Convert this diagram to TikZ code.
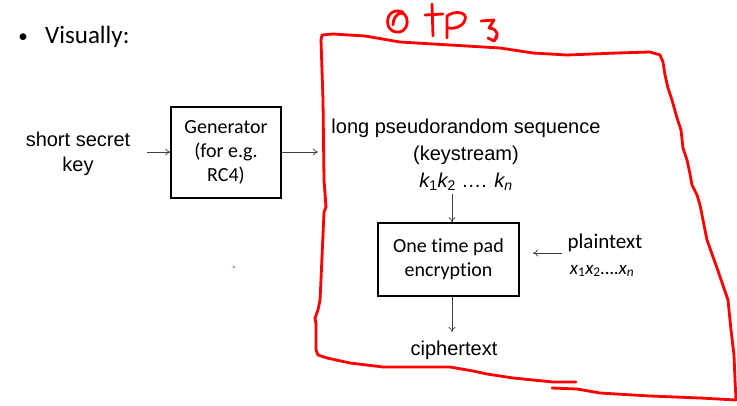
\documentclass[tikz,border=0pt]{standalone}
\usepackage{fontspec}
\setmainfont{Liberation Sans}
\newfontfamily\calfont[Ligatures={NoCommon}]{Carlito}
\usetikzlibrary{arrows.meta}
\tikzset{
  blockbox/.style={draw, line width=1.6pt, align=center, inner sep=0pt, font=\calfont\fontsize{20}{24}\selectfont},
  arr/.style={-{To[length=5pt,width=7pt]}, line width=0.7pt, draw=black!75},
  txt/.style={align=center, inner sep=0pt, font=\fontsize{20}{25}\selectfont},
  redink/.style={draw=red, line width=2.8pt, line join=round, line cap=round},
}
\begin{document}
\begin{tikzpicture}[x=1pt,y=-1pt]
\useasboundingbox (0,0) rectangle (737,405);
\fill[white] (0,0) rectangle (737,405);

% heading
\node[inner sep=0pt, font=\calfont\fontsize{19}{24}\selectfont] (bul) at (23,38) {•};
\node[anchor=west, inner sep=0pt, font=\calfont\fontsize{25}{30}\selectfont] (vis) at (45,37) {Visually:};

% left part
\node[txt] (key) at (78,154) {short secret\\key};
\node[blockbox, minimum width=110pt, minimum height=91pt] (gen) at (226,152.5) {Generator\\(for e.g.\\RC4)};
\coordinate (kin) at (147,152);
\coordinate (gout) at (318,152);
\draw[arr] (kin) -- (gen.west |- kin);
\draw[arr] (gen.east |- gout) -- (gout);

% keystream
\node[txt, font=\fontsize{20}{27}\selectfont] (ks) at (466,155) {long pseudorandom sequence\\(keystream)\\{\itshape k}\textsubscript{1}{\itshape k}\textsubscript{2} …. {\itshape k}\textsubscript{\itshape n}};
\node[blockbox, minimum width=141pt, minimum height=73pt] (otp) at (448.5,259.5) {One time pad\\encryption};
\coordinate (ksb) at (452,194);
\draw[arr] (ksb) -- (ksb |- otp.north);

% plaintext
\node[inner sep=0pt, font=\calfont\fontsize{21}{25}\selectfont] (pt) at (605,243) {plaintext};
\node[inner sep=0pt, font=\calfont\fontsize{19}{24}\selectfont] (xs) at (602,271) {{\itshape x}\textsubscript{1}{\itshape x}\textsubscript{2}….{\itshape x}\textsubscript{\itshape n}};
\coordinate (pin) at (562,253);
\coordinate (pout) at (533,253);
\draw[arr] (pin) -- (pout);

% ciphertext
\node[txt] (ct) at (454,350) {ciphertext};
\coordinate (cin) at (452,332);
\draw[arr] (cin |- otp.south) -- (cin);

% red hand-drawn frame
\draw[redink] (576,382) -- (553,382) -- (533,380) -- (513,378) -- (487,374) -- (473,371) -- (450,367) -- (383,367) -- (350,363) -- (327,358) -- (318,355) -- (316,350) -- (316,324) -- (315,318) -- (318,310) -- (320,300) -- (321,280) -- (322,257) -- (324,212) -- (326,207) -- (324,180) -- (323,100) -- (321,40) -- (322,35) -- (333,34) -- (365,36) -- (400,42) -- (450,45) -- (500,48) -- (533,53) -- (567,55) -- (617,53) -- (650,52) -- (660,55) -- (663,62) -- (665,75) -- (668,88) -- (672,100) -- (677,118) -- (681,130) -- (683,148) -- (687,160) -- (690,174) -- (692,185) -- (697,195) -- (700,205) -- (703,220) -- (707,240) -- (717,268) -- (728,300) -- (731,330) -- (734,355) -- (735,380) -- (736,400) -- (700,398) -- (650,396) -- (633,395) -- (600,393) -- (577,389) -- (552,388);

% red scrawl "OtP"
\draw[redink] (403,12) .. controls (392,8) and (386,16) .. (388,25) .. controls (390,33) and (402,35) .. (406,27) .. controls (409,20) and (406,13) .. (401,13) .. controls (396,14) and (393,19) .. (393,25);
\draw[redink] (432,4) -- (433,36);
\draw[redink] (425,15) -- (443,14);
\draw[redink] (447,38) -- (447,16) .. controls (455,10) and (468,12) .. (465,20) .. controls (462,28) and (453,29) .. (448,28);
\draw[redink] (481,21) -- (494,20) -- (489,28) .. controls (499,29) and (499,37) .. (494,41);
\draw[redink] (488,38) -- (494,41) -- (497,35);

% stray red dot
\fill[red!55] (234,267) circle (1.3pt);
\end{tikzpicture}
\end{document}
